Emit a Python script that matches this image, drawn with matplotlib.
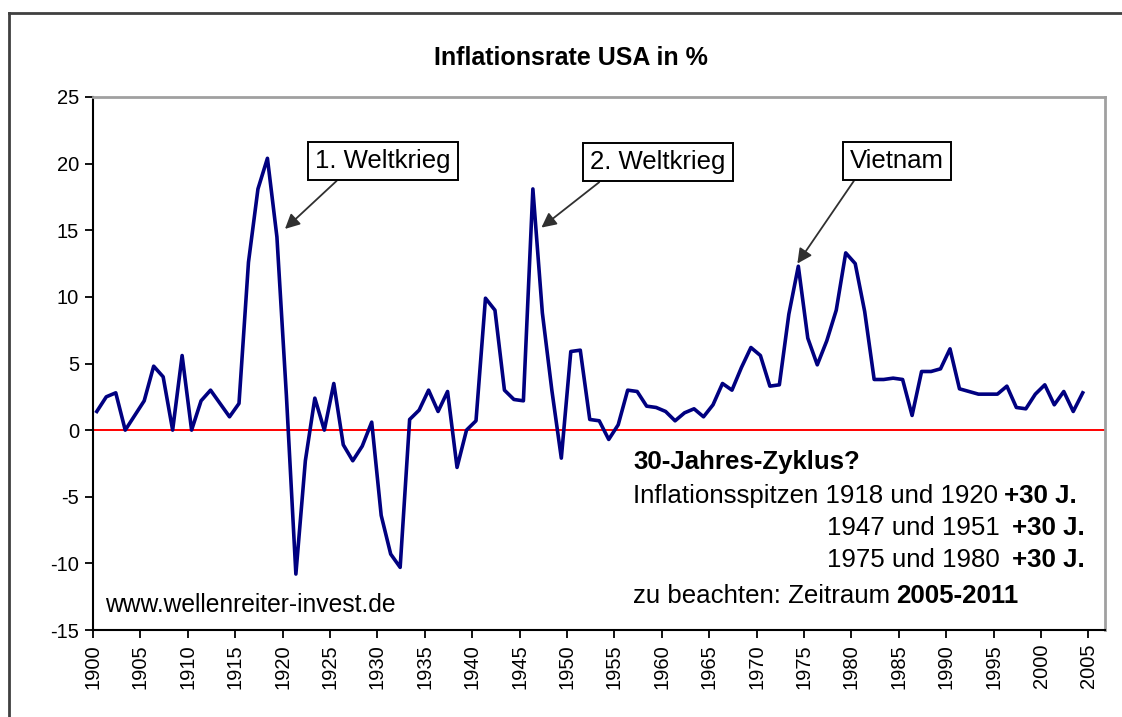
import numpy as np
import matplotlib.pyplot as plt
from matplotlib.lines import Line2D

plt.rcParams['font.family'] = ['Liberation Sans', 'DejaVu Sans']

# US inflation rate in %, one value per year 1900..2004
years = np.arange(1900, 2005)
inflation = np.array([
    1.4, 2.5, 2.8, 0.0, 1.1, 2.2, 4.8, 4.0, 0.0, 5.6,        # 1900-1909
    0.0, 2.2, 3.0, 2.0, 1.0, 2.0, 12.6, 18.1, 20.4, 14.5,     # 1910-1919
    2.6, -10.8, -2.3, 2.4, 0.0, 3.5, -1.1, -2.3, -1.2, 0.6,   # 1920-1929
    -6.4, -9.3, -10.3, 0.8, 1.5, 3.0, 1.4, 2.9, -2.8, 0.0,    # 1930-1939
    0.7, 9.9, 9.0, 3.0, 2.3, 2.2, 18.1, 8.8, 3.0, -2.1,       # 1940-1949
    5.9, 6.0, 0.8, 0.7, -0.7, 0.4, 3.0, 2.9, 1.8, 1.7,        # 1950-1959
    1.4, 0.7, 1.3, 1.6, 1.0, 1.9, 3.5, 3.0, 4.7, 6.2,         # 1960-1969
    5.6, 3.3, 3.4, 8.7, 12.3, 6.9, 4.9, 6.7, 9.0, 13.3,       # 1970-1979
    12.5, 8.9, 3.8, 3.8, 3.9, 3.8, 1.1, 4.4, 4.4, 4.6,        # 1980-1989
    6.1, 3.1, 2.9, 2.7, 2.7, 2.7, 3.3, 1.7, 1.6, 2.7,         # 1990-1999
    3.4, 1.9, 2.9, 1.4, 2.8,                                  # 2000-2004
])
tick_years = np.arange(1900, 2006, 5)
y_ticks = np.arange(-15, 26, 5)

# annotation boxes: label, arrow target (year, value), box centre (year, value)
events = ['1. Weltkrieg', '2. Weltkrieg', 'Vietnam']
event_tip = [(1920.25, 15.1), (1947.3, 15.2), (1974.3, 12.5)]
event_box = [(1930.6, 20.2), (1959.6, 20.1), (1984.8, 20.2)]
event_relx = [0.22, 0.14, 0.10]

W, H = 1122, 717
fig = plt.figure(figsize=(W / 100, H / 100), dpi=100)
fig.patch.set_facecolor('white')


def fx(px):
    return px / W


def fy(py):
    return 1 - py / H


ax = fig.add_axes([fx(93), fy(630), fx(1105) - fx(93), fy(97) - fy(630)])

ax.axhline(0, color='red', lw=1.4, zorder=2)
ax.plot(years + 0.4, inflation, color='#000080', lw=2.6, zorder=3)

ax.set_xlim(1900, 2006.75)
ax.set_ylim(-15, 25)
ax.set_xticks(tick_years)
ax.set_xticklabels([str(t) for t in tick_years], rotation=90, fontsize=14.5)
ax.set_yticks(y_ticks)
ax.set_yticklabels([str(t) for t in y_ticks], fontsize=14.5)
ax.tick_params(axis='both', direction='out', length=6, width=1.3, color='black', pad=4)

for side in ['left', 'bottom']:
    ax.spines[side].set_color('black')
    ax.spines[side].set_linewidth(1.5)
for side in ['top', 'right']:
    ax.spines[side].set_color('#a0a0a0')
    ax.spines[side].set_linewidth(2)

for label, tip, box, rx in zip(events, event_tip, event_box, event_relx):
    ax.annotate(label, xy=tip, xytext=box, ha='center', va='center', fontsize=18.5,
                bbox=dict(boxstyle='square,pad=0.28', fc='white', ec='black', lw=1.4),
                arrowprops=dict(arrowstyle='-|>', color='#303030', lw=1.3,
                                mutation_scale=22, shrinkA=0, shrinkB=0,
                                relpos=(rx, 0.0)),
                zorder=5)

fig.text(fx(571), fy(58), 'Inflationsrate USA in %', ha='center', va='center',
         fontsize=18, fontweight='bold')

fig.text(fx(105), fy(605), 'www.wellenreiter-invest.de', ha='left', va='center',
         fontsize=17.7)

fs = 18.6
fig.text(fx(633), fy(462), '30-Jahres-Zyklus?', ha='left', va='center',
         fontsize=fs, fontweight='bold')
fig.text(fx(633), fy(496), 'Inflationsspitzen 1918 und 1920', ha='left', va='center', fontsize=fs)
fig.text(fx(1004), fy(496), '+30 J.', ha='left', va='center', fontsize=fs, fontweight='bold')
fig.text(fx(827), fy(528), '1947 und 1951', ha='left', va='center', fontsize=fs)
fig.text(fx(1012), fy(528), '+30 J.', ha='left', va='center', fontsize=fs, fontweight='bold')
fig.text(fx(827), fy(560), '1975 und 1980', ha='left', va='center', fontsize=fs)
fig.text(fx(1012), fy(560), '+30 J.', ha='left', va='center', fontsize=fs, fontweight='bold')
fig.text(fx(633), fy(596), 'zu beachten: Zeitraum', ha='left', va='center', fontsize=fs)
fig.text(fx(896), fy(596), '2005-2011', ha='left', va='center', fontsize=fs, fontweight='bold')

# outer chart frame (only top and left edges are visible)
fig.add_artist(Line2D([fx(9), fx(9)], [fy(13), 0], color='#404040', lw=2))
fig.add_artist(Line2D([fx(9), 1], [fy(13), fy(13)], color='#404040', lw=2))

fig.savefig('out.png', dpi=100)
